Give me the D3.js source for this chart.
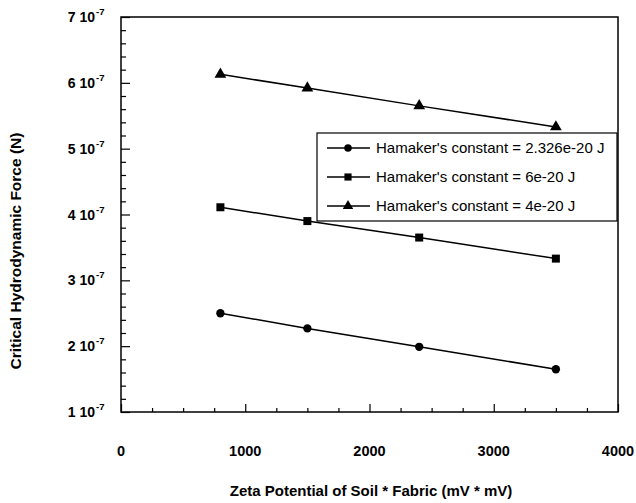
<!DOCTYPE html>
<html><head><meta charset="utf-8">
<script src="https://cdn.jsdelivr.net/npm/d3@7"></script>
<style>body{margin:0;background:#fff}svg{display:block}</style>
</head><body><svg id="c" width="636" height="503"></svg>
<script>
const xValues = [800, 1500, 2400, 3500];
const seriesNames = ["Hamaker's constant = 2.326e-20 J", "Hamaker's constant = 6e-20 J", "Hamaker's constant = 4e-20 J"];
const seriesCircle = [2.50e-7, 2.27e-7, 1.99e-7, 1.65e-7];
const seriesSquare = [4.11e-7, 3.90e-7, 3.65e-7, 3.33e-7];
const seriesTriangle = [6.13e-7, 5.92e-7, 5.65e-7, 5.33e-7];
const xTicks = [0, 1000, 2000, 3000, 4000];
const yTicks = [1, 2, 3, 4, 5, 6, 7];
const xTitle = "Zeta Potential of Soil * Fabric (mV * mV)";
const yTitle = "Critical Hydrodynamic Force (N)";

const svg = d3.select("#c");
const L = 121, R = 618, T = 17, B = 412;
const x = d3.scaleLinear().domain([0, 4000]).range([L, R]);
const y = d3.scaleLinear().domain([1e-7, 7e-7]).range([B, T]);
const font = "Liberation Sans, Arial, Helvetica, sans-serif";

// frame
svg.append("rect").attr("x", L).attr("y", T).attr("width", R - L).attr("height", B - T)
  .attr("fill", "none").attr("stroke", "#000").attr("stroke-width", 1.5);

// y axis ticks (inside)
const yAxis = d3.axisLeft(y).tickValues(d3.range(1, 7.01, 0.2).map(v => v * 1e-7)).tickSize(-5).tickFormat("");
const gy = svg.append("g").attr("transform", `translate(${L},0)`).call(yAxis);
gy.select(".domain").remove();
gy.selectAll(".tick line").attr("stroke-width", 1.2)
  .attr("x2", d => (Math.abs(Math.round(d * 1e7) - d * 1e7) < 1e-6) ? 9 : 5);

// x axis ticks (inside)
const xAxis = d3.axisBottom(x).tickValues(d3.range(0, 4001, 250)).tickSize(-5).tickFormat("");
const gx = svg.append("g").attr("transform", `translate(0,${B})`).call(xAxis);
gx.select(".domain").remove();
gx.selectAll(".tick line").attr("stroke-width", 1.2)
  .attr("y2", d => d % 1000 === 0 ? -8 : -4);

// y tick labels
yTicks.forEach(v => {
  svg.append("text").attr("x", 95).attr("y", y(v * 1e-7) + 5)
    .attr("text-anchor", "end").attr("font-family", font).attr("font-weight", "bold")
    .attr("font-size", 14).text(v + " 10");
  svg.append("text").attr("x", 96).attr("y", y(v * 1e-7) - 2)
    .attr("font-family", font).attr("font-weight", "bold").attr("font-size", 9.5).text("-7");
});

// x tick labels
xTicks.forEach(v => {
  svg.append("text").attr("x", x(v)).attr("y", 456).attr("text-anchor", "middle")
    .attr("font-family", font).attr("font-weight", "bold").attr("font-size", 14.5).text(v);
});

// titles
svg.append("text").attr("x", 371).attr("y", 496).attr("text-anchor", "middle")
  .attr("font-family", font).attr("font-weight", "bold").attr("font-size", 15).text(xTitle);
svg.append("text").attr("transform", "translate(21,251) rotate(-90)").attr("text-anchor", "middle")
  .attr("font-family", font).attr("font-weight", "bold").attr("font-size", 15.5).text(yTitle);

const line = d3.line().x((d, i) => x(xValues[i])).y(d => y(d));
const series = [
  {vals: seriesCircle, sym: d3.symbolCircle, size: 55},
  {vals: seriesSquare, sym: d3.symbolSquare, size: 64},
  {vals: seriesTriangle, sym: d3.symbolTriangle, size: 60}
];
series.forEach(s => {
  svg.append("path").attr("d", line(s.vals)).attr("fill", "none").attr("stroke", "#000").attr("stroke-width", 1.5);
  svg.selectAll(null).data(s.vals).enter().append("path")
    .attr("d", d3.symbol().type(s.sym).size(s.size))
    .attr("transform", (d, i) => `translate(${x(xValues[i])},${y(d)})`).attr("fill", "#000");
});

// legend
const lg = svg.append("g");
lg.append("rect").attr("x", 317).attr("y", 133).attr("width", 300).attr("height", 88)
  .attr("fill", "#fff").attr("stroke", "#000").attr("stroke-width", 1.2);
series.forEach((s, i) => {
  const yy = 148 + i * 29;
  lg.append("line").attr("x1", 327).attr("x2", 370).attr("y1", yy).attr("y2", yy).attr("stroke", "#000").attr("stroke-width", 1.5);
  lg.append("path").attr("d", d3.symbol().type(s.sym).size(s.size * 0.8)).attr("transform", `translate(348,${yy})`).attr("fill", "#000");
  lg.append("text").attr("x", 376).attr("y", yy + 5).attr("font-family", font).attr("font-size", 15).text(seriesNames[i]);
});
</script></body></html>
